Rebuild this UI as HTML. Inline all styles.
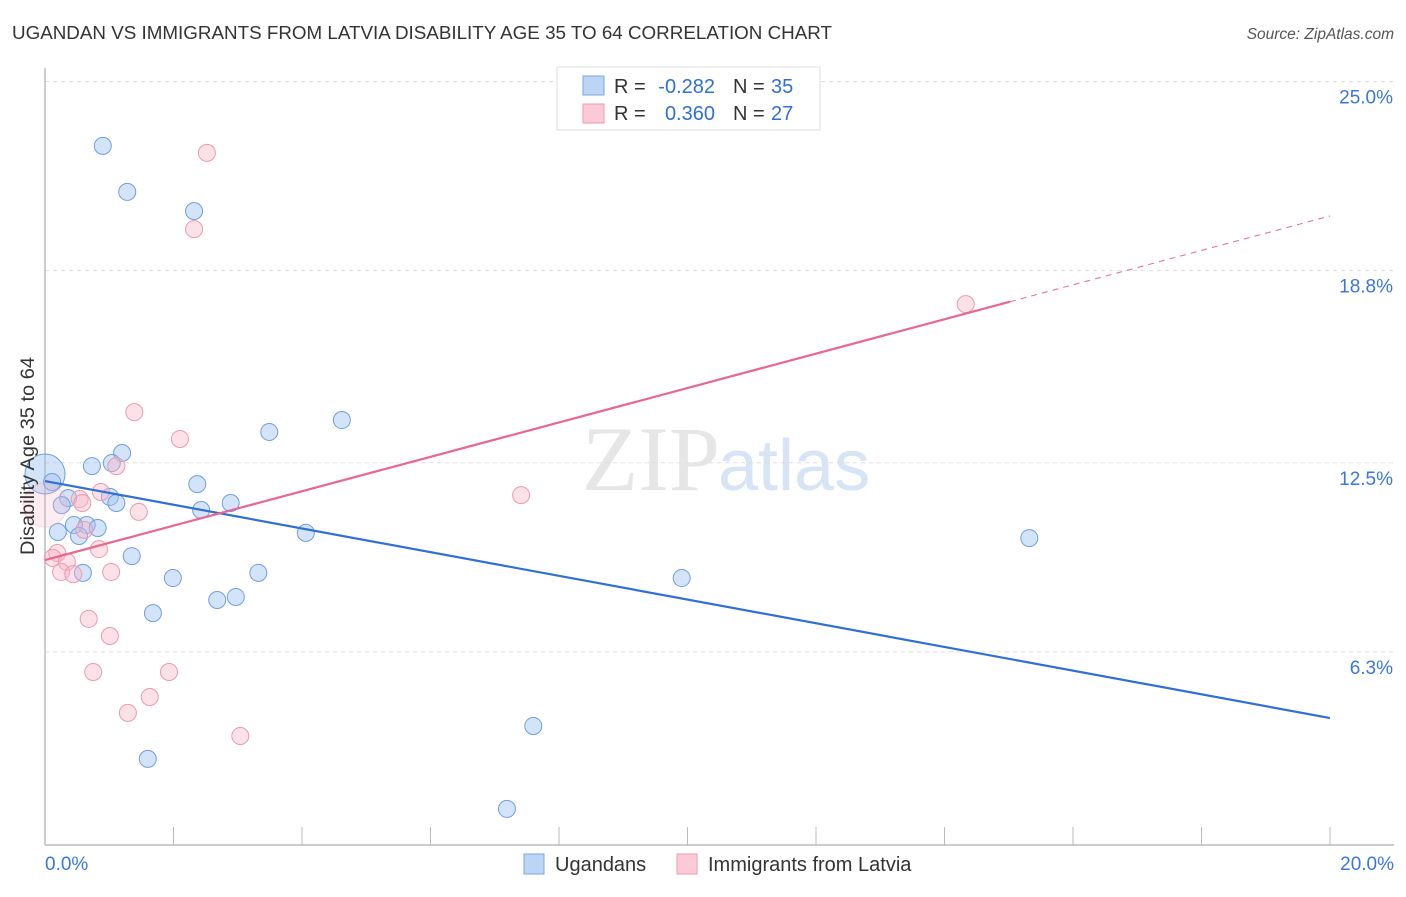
<!DOCTYPE html>
<html><head><meta charset="utf-8"><style>
body{margin:0;background:#fff;font-family:"Liberation Sans",sans-serif}
</style></head><body>
<svg id="chart" width="1406" height="892" xmlns="http://www.w3.org/2000/svg" font-family="Liberation Sans, sans-serif">
<text x="12" y="39" font-size="18" fill="#333" textLength="820" lengthAdjust="spacingAndGlyphs">UGANDAN VS IMMIGRANTS FROM LATVIA DISABILITY AGE 35 TO 64 CORRELATION CHART</text>
<text x="1394" y="39" font-size="15.5" fill="#555" text-anchor="end" font-style="italic">Source: ZipAtlas.com</text>
<text x="720" y="490" font-size="92" fill="#e6e6e6" text-anchor="end" font-family="Liberation Serif, serif">ZIP</text>
<text x="718" y="490" font-size="72" fill="#d6e4f5">atlas</text>
<g id="grid"></g><g id="axes"></g><g id="marks"></g>
<text transform="translate(34,456) rotate(-90)" font-size="19" fill="#333" text-anchor="middle" textLength="198" lengthAdjust="spacingAndGlyphs">Disability Age 35 to 64</text>
<g font-size="20">
<rect x="557" y="67" width="263" height="63" fill="#fff" stroke="#ddd"/>
<rect x="583" y="76" width="21" height="19" fill="#bcd5f5" stroke="#7aa6e0"/>
<rect x="583" y="104" width="21" height="19" fill="#fcc9d7" stroke="#eb9ab0"/>
<text x="614" y="93" fill="#333">R =</text>
<text x="715" y="93" fill="#2f6fd6" text-anchor="end">-0.282</text>
<text x="733" y="93" fill="#333">N =</text>
<text x="771" y="93" fill="#2f6fd6">35</text>
<text x="614" y="120" fill="#333">R =</text>
<text x="715" y="120" fill="#2f6fd6" text-anchor="end">0.360</text>
<text x="733" y="120" fill="#333">N =</text>
<text x="771" y="120" fill="#2f6fd6">27</text>
</g>
<g>
<rect x="524" y="854" width="20" height="20" fill="#bcd5f5" stroke="#7aa6e0"/>
<text x="555" y="871" font-size="20" fill="#333">Ugandans</text>
<rect x="677" y="854" width="20" height="20" fill="#fcc9d7" stroke="#eb9ab0"/>
<text x="708" y="871" font-size="20" fill="#333">Immigrants from Latvia</text>
</g>
</svg>
<script>
const blueX=[0.90,1.28,2.32,4.62,3.49,1.20,0.73,1.04,0.00,0.11,2.37,0.36,1.01,1.11,2.89,0.26,2.43,0.65,0.45,0.82,0.20,0.53,4.06,1.35,0.59,1.99,3.32,2.68,2.97,1.68,7.60,1.60,7.19,9.91,15.32];
const blueY=[22.89,21.38,20.75,13.90,13.51,12.82,12.39,12.49,12.13,11.87,11.80,11.34,11.38,11.18,11.18,11.11,10.95,10.46,10.46,10.36,10.23,10.10,10.20,9.44,8.89,8.72,8.89,8.00,8.10,7.57,3.87,2.79,1.15,8.72,10.03];
const pinkX=[2.52,2.32,14.33,1.39,2.10,1.11,7.41,0.87,0.54,0.58,0.00,1.46,0.61,0.19,0.12,0.84,0.34,0.25,0.44,1.03,0.68,1.01,0.75,1.93,1.63,1.29,3.04];
const pinkY=[22.66,20.16,17.70,14.16,13.28,12.39,11.44,11.54,11.31,11.18,11.11,10.89,10.30,9.54,9.38,9.67,9.25,8.92,8.85,8.92,7.38,6.82,5.64,5.64,4.82,4.30,3.54];
const blueTrend=[11.90,4.13];
const pinkTrend=[9.31,20.59];
const pinkSolidEnd=15.02;
const yTicks=[25.0,18.8,12.5,6.3];
const yTickLabels=["25.0%","18.8%","12.5%","6.3%"];
const xTickCount=10;
const xLabels=["0.0%","20.0%"];

const NS="http://www.w3.org/2000/svg";
const x=v=>45+v*64.25, y=v=>844-v*30.5;
function mk(p,t,a){const e=document.createElementNS(NS,t);for(const k in a)e.setAttribute(k,a[k]);p.appendChild(e);return e;}
const grid=document.getElementById('grid'),axes=document.getElementById('axes'),marks=document.getElementById('marks');
yTicks.forEach((t,i)=>{
 const l=mk(grid,'line',{x1:45,x2:1394,y1:y(t),y2:y(t),stroke:'#ddd','stroke-dasharray':'4,4'});
 
 
 const tx=mk(grid,'text',{x:1393,y:y(t)+22,'font-size':19,fill:'#3a78d8','text-anchor':'end'});
 tx.textContent=yTickLabels[i];
 
 
});
const ax=mk(axes,'line',{x1:45,x2:1394,y1:845,y2:845,stroke:'#bbb','stroke-width':1.5});


const ay=mk(axes,'line',{x1:45,x2:45,y1:68,y2:845,stroke:'#bbb','stroke-width':1.5});


for(let i=1;i<=xTickCount;i++){const v=i*20/xTickCount;
 const t=mk(axes,'line',{x1:x(v),x2:x(v),y1:827,y2:845,stroke:'#bbb'});
 
 }
xLabels.forEach((s,i)=>{const t=mk(axes,'text',{x:i?1394:45,y:870,'font-size':19,fill:'#3a78d8','text-anchor':i?'end':'start'});t.textContent=s;
 
 });
blueX.forEach((v,i)=>{const c=mk(marks,'circle',{cx:x(v),cy:y(blueY[i]),r:i==8?20:8.5,fill:'rgba(160,196,240,0.45)',stroke:'#6f9ee0','stroke-width':1});
 
 });
pinkX.forEach((v,i)=>{const c=mk(marks,'circle',{cx:x(v),cy:y(pinkY[i]),r:i==10?22:8.5,fill:i==10?'rgba(248,180,200,0.25)':'rgba(248,180,200,0.4)',stroke:i==10?'rgba(235,154,176,0.3)':'#eb9ab0','stroke-width':1});
 
 });
const bl=mk(marks,'line',{x1:x(0),y1:y(blueTrend[0]),x2:x(20),y2:y(blueTrend[1]),stroke:'#2f6fd6','stroke-width':2.2});


const ps=pinkTrend[0]+(pinkTrend[1]-pinkTrend[0])*pinkSolidEnd/20;
const pl=mk(marks,'line',{x1:x(0),y1:y(pinkTrend[0]),x2:x(pinkSolidEnd),y2:y(ps),stroke:'#e8688f','stroke-width':2.2});


const pd=mk(marks,'line',{x1:x(pinkSolidEnd),y1:y(ps),x2:x(20),y2:y(pinkTrend[1]),stroke:'#e8688f','stroke-width':1,'stroke-dasharray':'6,5'});


</script>
</body></html>
